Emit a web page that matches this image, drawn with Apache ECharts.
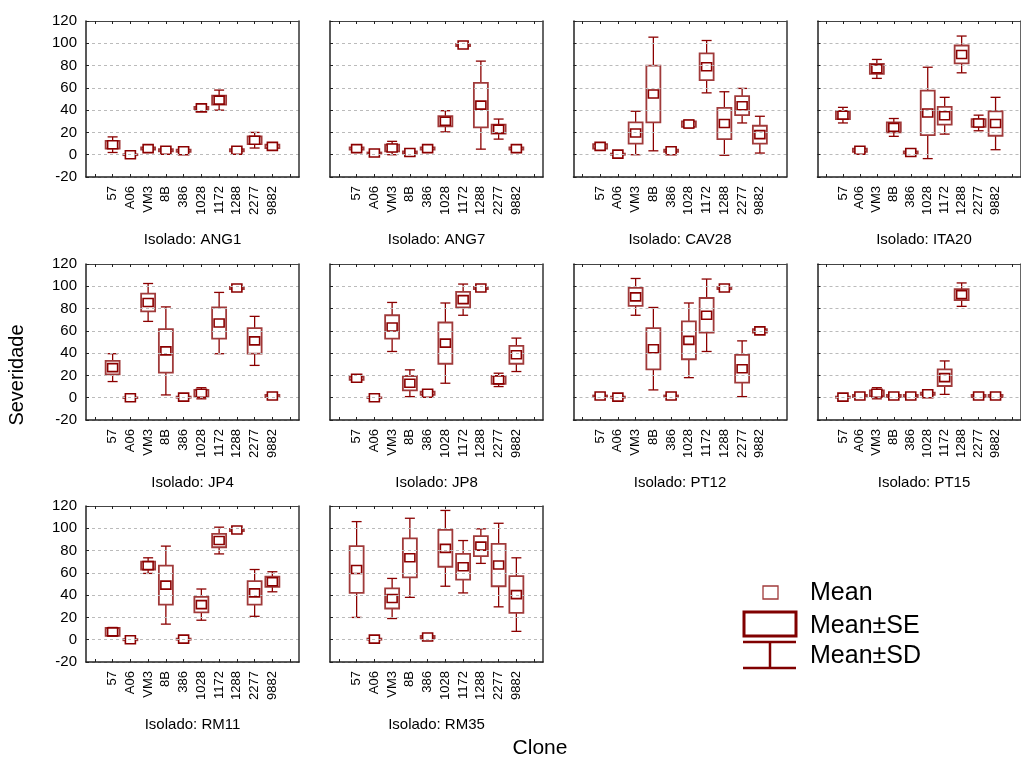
<!DOCTYPE html>
<html><head><meta charset="utf-8">
<script src="https://cdn.jsdelivr.net/npm/echarts@6/dist/echarts.min.js"></script>
<style>html,body{margin:0;padding:0;background:#fff}#c{width:1021px;height:760px}</style>
</head><body><div id="c"></div>
<script>
const clones = ['57','A06','VM3','8B','386','1028','1172','1288','2277','9882'];
const isolates = ['ANG1','ANG7','CAV28','ITA20','JP4','JP8','PT12','PT15','RM11','RM35'];
const yTicks = [-20,0,20,40,60,80,100,120];

const meanANG1 = [9, 0, 5.5, 4, 3.5, 42, 49, 4, 13, 7.5];
const seANG1   = [3.5, 0.4, 1, 1, 1, 1, 4, 1, 3.5, 1.5];
const sdANG1   = [7, 0.4, 2, 1, 1, 2, 9, 1, 7, 1.5];

const meanANG7 = [5.5, 1.5, 6, 2, 5.5, 30, 98.5, 44.5, 23, 5.5];
const seANG7   = [1, 0.5, 3, 1, 1, 4.5, 1, 20, 4, 1];
const sdANG7   = [1, 0.5, 6, 1, 1, 9.5, 1, 39.5, 9, 1];

const meanCAV28 = [7.5, 0.5, 19.5, 54.5, 3.5, 27.5, 79, 28, 44, 18];
const seCAV28   = [2, 0.5, 9.5, 25.5, 1, 2.5, 12, 14, 8.5, 8];
const sdCAV28   = [2, 0.5, 19.5, 51, 1, 3.5, 23.5, 28.5, 15.5, 16.5];

const meanITA20 = [35.5, 4, 77, 24.5, 2, 37.5, 35, 90, 28.5, 28];
const seITA20   = [3.5, 1.5, 4.5, 4.5, 1, 20, 8, 8, 3.5, 11];
const sdITA20   = [7, 1.5, 8.5, 8, 1, 41, 16.5, 16.5, 7, 23.5];

const meanJP4 = [27, 0, 85.5, 42, 0.5, 4, 67, 98.5, 51, 1.5];
const seJP4   = [6, 0.3, 8, 19.5, 0.5, 3, 14, 1, 11.5, 1];
const sdJP4   = [12.5, 0.3, 17, 39.5, 0.5, 5, 27.5, 1, 22, 1];

const meanJP8 = [17.5, 0, 63.5, 13, 4, 49, 88, 98.5, 16, 38.5];
const seJP8   = [1.5, 0.3, 10.5, 6.5, 1.5, 18.5, 7, 1, 3.5, 8];
const sdJP8   = [1.5, 0.3, 22, 12, 1.5, 36, 14, 1, 6, 15];

const meanPT12 = [1.5, 0.5, 90.5, 44, 1.5, 51.5, 74, 98.5, 26, 60];
const sePT12   = [0.5, 0.5, 8, 18.5, 0.5, 17, 15.5, 1, 12.5, 1.5];
const sdPT12   = [0.5, 0.5, 16.5, 37, 0.5, 33.5, 32.5, 1, 25, 1.5];

const meanPT15 = [0.5, 1.5, 4, 1.5, 1.5, 3.5, 18, 92.5, 1.5, 1.5];
const sePT15   = [0.5, 1, 2.5, 1, 1, 1, 7.5, 5, 1, 1];
const sdPT15   = [0.5, 1, 5, 1, 1, 1, 15, 10.5, 1, 1];

const meanRM11 = [7, 0, 66.5, 49, 0.5, 31.5, 89, 98.5, 42, 52];
const seRM11   = [3.5, 0.5, 3.5, 17.5, 0.5, 7, 6, 1, 10.5, 4.5];
const sdRM11   = [4, 0.5, 7, 35, 0.5, 14, 12, 1, 21, 9];

const meanRM35 = [63, 0.5, 37, 73.5, 2.5, 82, 65.5, 84, 67, 40.5];
const seRM35   = [21, 0.5, 9, 17.5, 1, 16.5, 11.5, 9, 19, 16.5];
const sdRM35   = [43, 0.5, 18, 35.5, 1, 34, 23.5, 15.5, 37.5, 33];

const panelData = [
  [meanANG1, seANG1, sdANG1], [meanANG7, seANG7, sdANG7],
  [meanCAV28, seCAV28, sdCAV28], [meanITA20, seITA20, sdITA20],
  [meanJP4, seJP4, sdJP4], [meanJP8, seJP8, sdJP8],
  [meanPT12, sePT12, sdPT12], [meanPT15, sePT15, sdPT15],
  [meanRM11, seRM11, sdRM11], [meanRM35, seRM35, sdRM35]
];

const FONT = 'Liberation Sans, Arial, sans-serif';
const colLeft = [86, 330, 573.5, 817.5];
const rowTop = [21, 264, 506];
const PW = 213, PH = 156;
const DARK = '#8B0000';
const BOXC = '#A03A3A';

const catIdx = clones.map((c, i) => i);
const tickPos = [-1].concat(catIdx, [10]);

function renderItem(params, api) {
  const x = api.value(0), m = api.value(1), se = api.value(2), sd = api.value(3);
  const c = api.coord([x, m]);
  const ySdT = api.coord([x, m + sd])[1], ySdB = api.coord([x, m - sd])[1];
  const ySeT = api.coord([x, m + se])[1], ySeB = api.coord([x, m - se])[1];
  const bw = 14, cw = 10, mw = 10, mh = 8;
  const ls = {stroke: DARK, lineWidth: 1.3};
  return {type: 'group', children: [
    {type: 'line', shape: {x1: c[0], y1: ySdT, x2: c[0], y2: ySdB}, style: ls},
    {type: 'line', shape: {x1: c[0] - cw / 2, y1: ySdT, x2: c[0] + cw / 2, y2: ySdT}, style: ls},
    {type: 'line', shape: {x1: c[0] - cw / 2, y1: ySdB, x2: c[0] + cw / 2, y2: ySdB}, style: ls},
    {type: 'rect', shape: {x: c[0] - bw / 2, y: ySeT, width: bw, height: Math.max(ySeB - ySeT, 0.5)},
      style: {fill: '#fff', stroke: BOXC, lineWidth: 1.8}},
    {type: 'rect', shape: {x: c[0] - mw / 2, y: c[1] - mh / 2, width: mw, height: mh},
      style: {fill: '#fff', stroke: DARK, lineWidth: 1.6}}
  ]};
}

const grids = [], xAxes = [], yAxes = [], series = [], graphics = [];
isolates.forEach((iso, i) => {
  const col = i % 4, row = Math.floor(i / 4);
  const left = colLeft[col], top = rowTop[row];
  grids.push({left: left, top: top, width: PW, height: PH, containLabel: false});
  const lineS = {color: '#222', width: 1.5};
  xAxes.push({gridIndex: i, type: 'value', min: -1.5, max: 10.5, position: 'bottom', z: 3,
    axisLine: {show: true, onZero: false, lineStyle: lineS},
    axisTick: {show: true, inside: true, length: 3, customValues: tickPos, lineStyle: {color: '#222'}},
    axisLabel: {show: true, customValues: catIdx, rotate: 90, margin: 9,
      formatter: v => clones[Math.round(v)], fontSize: 13, color: '#000', fontFamily: FONT},
    splitLine: {show: false}});
  xAxes.push({gridIndex: i, type: 'value', min: -1.5, max: 10.5, position: 'top', z: 3,
    axisLine: {show: true, onZero: false, lineStyle: {color: '#444', width: 1}},
    axisTick: {show: true, inside: true, length: 3, customValues: tickPos, lineStyle: {color: '#222'}},
    axisLabel: {show: false}, splitLine: {show: false}});
  yAxes.push({gridIndex: i, type: 'value', min: yTicks[0], max: yTicks[yTicks.length - 1], interval: 20,
    position: 'left', z: 3,
    axisLine: {show: true, onZero: false, lineStyle: lineS},
    axisTick: {show: true, inside: true, length: 3, lineStyle: {color: '#222'}},
    axisLabel: {show: col === 0, fontSize: 15, color: '#000', margin: 9, fontFamily: FONT},
    splitLine: {show: true, lineStyle: {color: '#bbb', type: [3, 3], width: 1}}});
  yAxes.push({gridIndex: i, type: 'value', min: yTicks[0], max: yTicks[yTicks.length - 1], interval: 20,
    position: 'right', z: 3,
    axisLine: {show: true, onZero: false, lineStyle: {color: '#333', width: 1.5}},
    axisTick: {show: false}, axisLabel: {show: false}, splitLine: {show: false}});
  const [mean, se, sd] = panelData[i];
  series.push({type: 'custom', xAxisIndex: 2 * i, yAxisIndex: 2 * i, renderItem: renderItem,
    clip: false, z: 2,
    data: clones.map((c, k) => [k, mean[k], se[k], sd[k]])});
  graphics.push({type: 'text', x: left + PW / 2, y: top + PH + 63,
    style: {text: 'Isolado: ' + iso, font: '15px ' + FONT, fill: '#000',
      textAlign: 'center', textVerticalAlign: 'middle'}});
});

graphics.push({type: 'text', x: 17, y: 375, rotation: Math.PI / 2,
  style: {text: 'Severidade', font: '20px ' + FONT, fill: '#000', textAlign: 'center', textVerticalAlign: 'middle'}});
graphics.push({type: 'text', x: 540, y: 748,
  style: {text: 'Clone', font: '21px ' + FONT, fill: '#000', textAlign: 'center', textVerticalAlign: 'middle'}});

// legend
graphics.push({type: 'rect', shape: {x: 763, y: 586, width: 15, height: 13},
  style: {fill: '#fff', stroke: '#A03A3A', lineWidth: 1.3}});
graphics.push({type: 'rect', shape: {x: 744, y: 612, width: 52, height: 24},
  style: {fill: '#fff', stroke: '#800000', lineWidth: 3}});
graphics.push({type: 'line', shape: {x1: 743, y1: 642, x2: 796, y2: 642}, style: {stroke: '#800000', lineWidth: 2.5}});
graphics.push({type: 'line', shape: {x1: 743, y1: 668, x2: 796, y2: 668}, style: {stroke: '#800000', lineWidth: 2.5}});
graphics.push({type: 'line', shape: {x1: 770, y1: 642, x2: 770, y2: 668}, style: {stroke: '#800000', lineWidth: 2.5}});
[['Mean', 593], ['Mean\u00b1SE', 626], ['Mean\u00b1SD', 656]].forEach(([t, y]) => {
  graphics.push({type: 'text', x: 810, y: y,
    style: {text: t, font: '25px ' + FONT, fill: '#000', textAlign: 'left', textVerticalAlign: 'middle'}});
});

const chart = echarts.init(document.getElementById('c'), null, {renderer: 'canvas'});
chart.setOption({
  animation: false,
  backgroundColor: '#fff',
  grid: grids, xAxis: xAxes, yAxis: yAxes, series: series, graphic: graphics
});
</script></body></html>
